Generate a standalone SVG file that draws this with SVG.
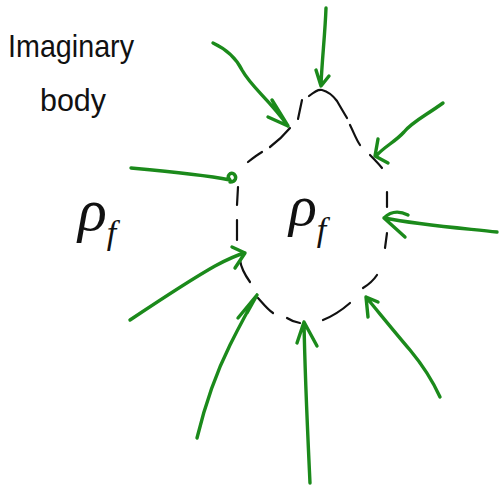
<svg xmlns="http://www.w3.org/2000/svg" width="499" height="485" viewBox="0 0 499 485">
<style>
.ink{fill:none;stroke:#111;stroke-width:2.2;stroke-linecap:round;stroke-linejoin:round}
.arr{fill:none;stroke:#1b8a1b;stroke-width:3.4;stroke-linecap:round;stroke-linejoin:round}
.txt{font-family:"Liberation Sans",Arial,sans-serif;fill:#111}
.rho{font-family:"Liberation Serif","DejaVu Serif",serif;font-style:italic;fill:#111}
</style>
<rect width="499" height="485" fill="#fff"/>
<g id="label-imaginary-body">
<text class="txt" x="8" y="57" font-size="32" textLength="126" lengthAdjust="spacingAndGlyphs">Imaginary</text>
<text class="txt" x="40" y="111" font-size="32" textLength="66" lengthAdjust="spacingAndGlyphs">body</text>
</g>
<g id="rho-outside">
<text class="rho" x="78" y="230" font-size="60">ρ<tspan dy="14" font-size="34">f</tspan></text>
</g>
<g id="imaginary-body">
<path class="ink" d="M302,100 L298,119 M309,96 C314,92 318,89 322,90 C330,92 334,97 337,101 C341,108 344,113 347,118 M350,125 C354,133 356,139 360,145 M370,155 C374,159 378,163 382,168 M387,192 L387,207 M387,233 L385,248 M377,275 C373,281 368,285 363,288 M350,303 C342,310 333,316 323,320 M300,323 C294,322 290,320 287,318 M273,313 C266,308 262,302 258,298 M250,282 C245,275 241,268 240,260 M237,240 L237,220 M237,205 L238,187 M248,162 C253,158 257,155 262,152 M270,147 C278,141 285,134 290,128"/>
<text class="rho" x="289" y="225" font-size="58">ρ<tspan dy="16" font-size="34">f</tspan></text>
</g>
<g id="connectors">
<path class="arr" d="M326,8 C325,35 322,60 321,85 M316,70 L321,86 L329,76"/>
<path class="arr" d="M213,43 C228,50 236,58 242,70 C252,88 268,98 288,126 M272,100 L288,126 M268,117 L288,126"/>
<path class="arr" d="M443,103 C425,116 412,122 404,132 C395,142 385,146 376,156 M378,139 L375,156 L388,163"/>
<path class="arr" d="M131,168 C165,171 200,174 230,180 C226,176 230,172 234,174 C237,177 236,182 230,182"/>
<path class="arr" d="M497,232 C460,228 420,225 384,218 M408,215 C398,210 390,212 384,218 L405,237"/>
<path class="arr" d="M130,320 C160,300 190,280 215,266 C228,259 237,255 245,253 M232,247 L245,253 L235,268"/>
<path class="arr" d="M197,438 C205,405 215,375 230,345 C240,325 248,310 257,295 M238,318 L257,295 M247,313 L257,295"/>
<path class="arr" d="M310,483 C308,440 305,380 304,322 M297,343 L304,322 L317,346"/>
<path class="arr" d="M440,397 C430,375 420,362 410,350 C398,336 385,320 366,297 M368,317 L366,297 L378,302"/>
</g>
</svg>
